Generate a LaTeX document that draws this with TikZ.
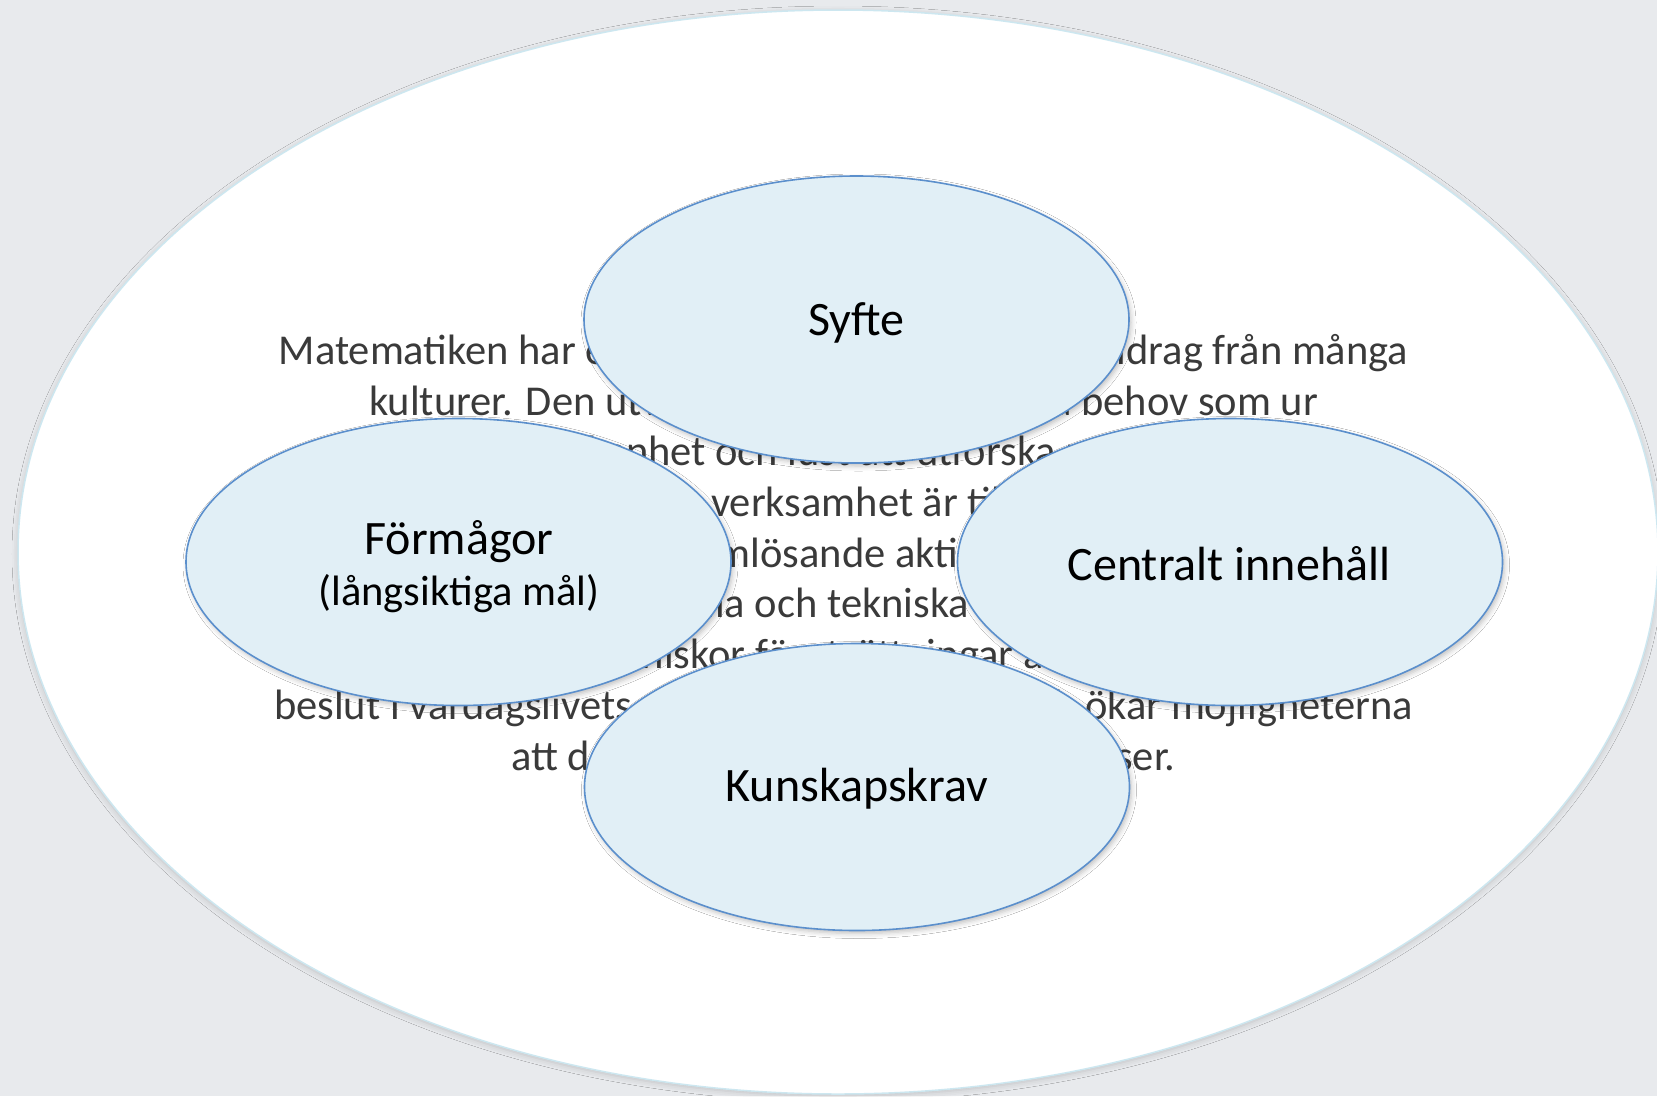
\documentclass[tikz,border=0pt]{standalone}
\usepackage{fontspec}
\setmainfont{Carlito}
\usetikzlibrary{shapes.geometric,shadows.blur}

\definecolor{bgc}{HTML}{E8EAED}
\definecolor{ovfill}{HTML}{E1EFF6}
\definecolor{ovline}{HTML}{5B8FCC}
\definecolor{bigline}{HTML}{CDE7F0}
\definecolor{bodytxt}{HTML}{3A3A3A}

\begin{document}
\begin{tikzpicture}[x=1pt,y=-1pt,
  oval/.style={ellipse, draw=ovline, line width=1.6pt, fill=ovfill,
    minimum width=545pt, minimum height=287pt, inner sep=0pt,
    blur shadow={shadow xshift=2pt, shadow yshift=-3pt, shadow blur radius=5pt, shadow opacity=25}},
  bodyline/.style={anchor=base, inner sep=0pt, text=bodytxt, font=\fontsize{42.5}{50.7}\selectfont},
  lab/.style={anchor=base, inner sep=0pt, text=black, font=\fontsize{48}{56}\selectfont},
  sublab/.style={anchor=base, inner sep=0pt, text=black, font=\fontsize{42.5}{50}\selectfont}]

\fill[bgc] (0,0) rectangle (1657,1096);
\useasboundingbox (0,0) rectangle (1657,1096);

% outer white ellipse
\path[fill=white, draw=bigline, line width=1.5pt,
  blur shadow={shadow xshift=0pt, shadow yshift=-2pt, shadow blur radius=6pt, shadow opacity=18}]
  (838,552) ellipse [x radius=820, y radius=542];

% body text
\node[bodyline] (l1) at (843.5,364) {Matematiken har en flertusenårig historia med bidrag från många};
\node[bodyline] (l2) at (843.5,415) {kulturer. Den utvecklas såväl ur praktiska behov som ur};
\node[bodyline] (l3) at (843.5,465) {människans nyfikenhet och lust att utforska matematiken som};
\node[bodyline] (l4) at (843.5,516) {sådan. Matematisk verksamhet är till sin art en kreativ,};
\node[bodyline] (l5) at (843.5,567) {reflekterande och problemlösande aktivitet som är nära kopplad};
\node[bodyline] (l6) at (843.5,617) {till den samhälleliga, sociala och tekniska utvecklingen. Kunskaper i};
\node[bodyline] (l7) at (843.5,668) {matematik ger människor förutsättningar att fatta välgrundade};
\node[bodyline] (l8) at (843.5,719) {beslut i vardagslivets många valsituationer och ökar möjligheterna};
\node[bodyline] (l9) at (843.5,770) {att delta i samhällets beslutsprocesser.};

% four ovals
\node[oval] (syfte) at (856.5,319.5) {};
\node[oval] (form) at (458.5,562) {};
\node[oval] (cent) at (1230,562) {};
\node[oval] (kunsk) at (857,787) {};

% labels
\node[lab] (tsyfte) at (856.5,335) {Syfte};
\node[lab] (tform) at (459,554) {Förmågor};
\node[sublab] (tform2) at (459,605) {(långsiktiga mål)};
\node[lab] (tcent) at (1229,580) {Centralt innehåll};
\node[lab] (tkunsk) at (857,801) {Kunskapskrav};
\end{tikzpicture}
\end{document}
